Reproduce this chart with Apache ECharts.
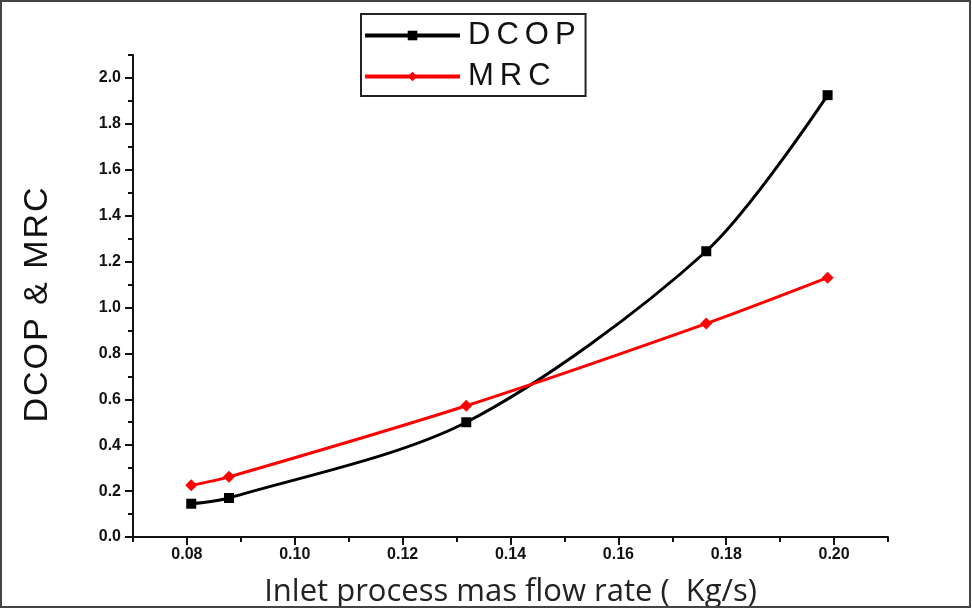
<!DOCTYPE html>
<html>
<head>
<meta charset="utf-8">
<script src="https://cdn.jsdelivr.net/npm/echarts@6/dist/echarts.min.js"></script>
<style>
  html, body { margin: 0; padding: 0; background: #fff; }
  #main { width: 972px; height: 610px; }
</style>
</head>
<body>
<div id="main"></div>
<script>
// data
var flowRate = [0.0808, 0.0878, 0.1318, 0.1763, 0.1988];
var dcop = [0.145, 0.17, 0.50, 1.245, 1.925];
var mrc = [0.225, 0.262, 0.572, 0.93, 1.13];

var xMajor = [0.08, 0.10, 0.12, 0.14, 0.16, 0.18, 0.20];
var xMinor = [0.07, 0.09, 0.11, 0.13, 0.15, 0.17, 0.19, 0.21];
var yMajor = [0, 0.2, 0.4, 0.6, 0.8, 1.0, 1.2, 1.4, 1.6, 1.8, 2.0];
var yMinor = [0.1, 0.3, 0.5, 0.7, 0.9, 1.1, 1.3, 1.5, 1.7, 1.9, 2.1];

function pairs(xs, ys) {
  var res = [];
  for (var i = 0; i < xs.length; i++) res.push([xs[i], ys[i]]);
  return res;
}

// spread letters out a bit, the original text is letter spaced
function spaced(s) {
  return s.split('').map(function (c) { return '{s|' + c + '}'; }).join('');
}

var chart = echarts.init(document.getElementById('main'));

var tickLabel = { fontFamily: 'Liberation Sans', fontWeight: 'bold', fontSize: 16, color: '#111' };

var option = {
  backgroundColor: '#fff',
  animation: false,
  grid: { left: 133, right: 84, top: 55, bottom: 73, outerBoundsMode: 'none' },
  legend: {
    orient: 'vertical',
    left: 361,
    top: 14,
    backgroundColor: '#fff',
    borderColor: '#222',
    borderWidth: 2,
    borderRadius: 0,
    padding: [6, 10, 4, 2],
    itemGap: 10,
    itemWidth: 95,
    itemHeight: 12,
    data: ['DCOP', 'MRC'],
    formatter: function (name) { return spaced(name); },
    lineStyle: { width: 4 },
    textStyle: {
      fontFamily: 'Liberation Sans', fontSize: 31, color: '#111',
      rich: { s: { fontFamily: 'Liberation Sans', fontSize: 31, color: '#111', padding: [0, 3, 0, 3] } }
    }
  },
  xAxis: [{
    type: 'value',
    min: 0.07,
    max: 0.21,
    name: 'Inlet process mas flow rate (  Kg/s)',
    nameLocation: 'middle',
    nameGap: 40,
    nameTextStyle: { fontFamily: 'Open Sans', fontSize: 31, color: '#222' },
    axisLine: { lineStyle: { color: '#111', width: 2 } },
    axisTick: { customValues: xMajor, length: 8, lineStyle: { color: '#111', width: 2 } },
    axisLabel: Object.assign({ customValues: xMajor, margin: 10, formatter: function (v) { return v.toFixed(2); } }, tickLabel),
    splitLine: { show: false }
  }, {
    type: 'value',
    min: 0.07,
    max: 0.21,
    position: 'bottom',
    axisLine: { show: false },
    axisTick: { customValues: xMinor, length: 5, lineStyle: { color: '#111', width: 2 } },
    axisLabel: { show: false },
    splitLine: { show: false }
  }],
  yAxis: [{
    type: 'value',
    min: 0,
    max: 2.1,
    name: spaced('DCOP & MRC'),
    nameLocation: 'middle',
    nameGap: 78,
    nameTextStyle: {
      fontFamily: 'Liberation Sans', fontSize: 34, color: '#111',
      padding: [0, 18, 0, 0],
      rich: { s: { fontFamily: 'Liberation Sans', fontSize: 34, color: '#111', padding: [0, 1, 0, 1] } }
    },
    axisLine: { show: true, lineStyle: { color: '#111', width: 2 } },
    axisTick: { show: true, customValues: yMajor, length: 8, lineStyle: { color: '#111', width: 2 } },
    axisLabel: Object.assign({ customValues: yMajor, margin: 12, formatter: function (v) { return v.toFixed(1); } }, tickLabel),
    splitLine: { show: false }
  }, {
    type: 'value',
    min: 0,
    max: 2.1,
    position: 'left',
    axisLine: { show: false },
    axisTick: { show: true, customValues: yMinor, length: 5, lineStyle: { color: '#111', width: 2 } },
    axisLabel: { show: false },
    splitLine: { show: false }
  }],
  graphic: [{
    type: 'rect',
    shape: { x: 1, y: 1, width: 969, height: 606 },
    style: { fill: 'none', stroke: '#444', lineWidth: 2 },
    z: 100
  }],
  series: [{
    name: 'DCOP',
    type: 'line',
    xAxisIndex: 0,
    yAxisIndex: 0,
    smooth: 0.3,
    symbol: 'rect',
    symbolSize: 10,
    lineStyle: { color: '#000', width: 3 },
    itemStyle: { color: '#000' },
    data: pairs(flowRate, dcop)
  }, {
    name: 'MRC',
    type: 'line',
    xAxisIndex: 0,
    yAxisIndex: 0,
    smooth: 0.3,
    symbol: 'diamond',
    symbolSize: 12,
    lineStyle: { color: '#ff0000', width: 3 },
    itemStyle: { color: '#ff0000' },
    data: pairs(flowRate, mrc)
  }]
};

chart.setOption(option);
</script>
</body>
</html>
